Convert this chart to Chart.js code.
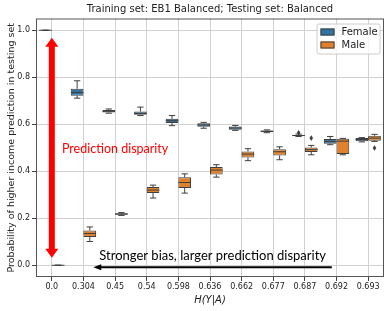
<!DOCTYPE html>
<html>
<head>
<meta charset="utf-8">
<script src="https://cdn.jsdelivr.net/npm/chart.js@4.4.0/dist/chart.umd.min.js"></script>
<style>
  html, body { margin: 0; padding: 0; background: #fff; }
</style>
</head>
<body>
<canvas id="myChart" width="390" height="311"></canvas>
<script>
// categories = H(Y|A)
const categories = ["0.0", "0.304", "0.45", "0.54", "0.598", "0.636", "0.662", "0.677", "0.687", "0.692", "0.693"];
const yTicks = [0.0, 0.2, 0.4, 0.6, 0.8, 1.0];

// Female box stats
const femaleMin = [1.0, 0.711, 0.647, 0.637, 0.594, 0.583, 0.574, 0.564, 0.548, 0.513, 0.525];
const femaleQ1 = [1.0, 0.721, 0.650, 0.640, 0.605, 0.589, 0.577, 0.566, 0.550, 0.517, 0.528];
const femaleMedian = [1.0, 0.735, 0.655, 0.646, 0.615, 0.597, 0.584, 0.570, 0.552, 0.526, 0.535];
const femaleQ3 = [1.0, 0.751, 0.661, 0.654, 0.623, 0.604, 0.590, 0.573, 0.554, 0.537, 0.541];
const femaleMax = [1.0, 0.785, 0.665, 0.673, 0.637, 0.608, 0.595, 0.576, 0.558, 0.548, 0.543];
const femaleOutliers = [[], [], [], [], [], [], [], [], [0.564], [], []];

// Male box stats
const maleMin = [0.0, 0.101, 0.212, 0.286, 0.307, 0.375, 0.445, 0.449, 0.470, 0.470, 0.527];
const maleQ1 = [0.0, 0.120, 0.215, 0.307, 0.329, 0.386, 0.459, 0.467, 0.482, 0.473, 0.530];
const maleMedian = [0.0, 0.135, 0.218, 0.320, 0.352, 0.405, 0.473, 0.483, 0.492, 0.528, 0.541];
const maleQ3 = [0.0, 0.148, 0.221, 0.333, 0.374, 0.418, 0.484, 0.494, 0.501, 0.538, 0.551];
const maleMax = [0.0, 0.163, 0.224, 0.341, 0.389, 0.428, 0.496, 0.504, 0.510, 0.540, 0.557];
const maleOutliers = [[], [], [], [], [], [], [], [], [0.541], [], [0.499]];

const BLUE = "#3274a1";
const ORANGE = "#e1812c";
const EDGE = "#3f3f3f";

function boxData(q1, q3) {
  return q1.map((v, i) => [v, q3[i]]);
}

// whiskers, medians, outliers, frame, legend and annotations
const boxPlugin = {
  id: "boxPlugin",
  beforeDatasetsDraw(chart) {
    const { ctx, chartArea: a } = chart;
    ctx.save();
    ctx.strokeStyle = "#555";
    ctx.lineWidth = 1;
    ctx.strokeRect(a.left + 0.5, a.top + 0.5, a.right - a.left - 1, a.bottom - a.top - 1);
    ctx.restore();
  },
  afterDatasetsDraw(chart) {
    const { ctx } = chart;
    const y = chart.scales.y;
    ctx.save();
    ctx.strokeStyle = EDGE;
    ctx.fillStyle = EDGE;
    ctx.lineWidth = 1;
    chart.data.datasets.forEach((ds, di) => {
      const meta = chart.getDatasetMeta(di);
      meta.data.forEach((bar, i) => {
        const s = ds.stats;
        const x = bar.x;
        const w = bar.width;
        const yq1 = y.getPixelForValue(s.q1[i]);
        const yq3 = y.getPixelForValue(s.q3[i]);
        const ymin = y.getPixelForValue(s.min[i]);
        const ymax = y.getPixelForValue(s.max[i]);
        const ymed = y.getPixelForValue(s.median[i]);
        ctx.beginPath();
        // whiskers
        ctx.moveTo(x, yq3); ctx.lineTo(x, ymax);
        ctx.moveTo(x, yq1); ctx.lineTo(x, ymin);
        // caps
        ctx.moveTo(x - w / 4, ymax); ctx.lineTo(x + w / 4, ymax);
        ctx.moveTo(x - w / 4, ymin); ctx.lineTo(x + w / 4, ymin);
        // median
        ctx.moveTo(x - w / 2, ymed); ctx.lineTo(x + w / 2, ymed);
        ctx.stroke();
        // outliers (diamonds)
        s.outliers[i].forEach((v) => {
          const yo = y.getPixelForValue(v);
          ctx.beginPath();
          ctx.moveTo(x, yo - 2.8);
          ctx.lineTo(x + 1.8, yo);
          ctx.lineTo(x, yo + 2.8);
          ctx.lineTo(x - 1.8, yo);
          ctx.closePath();
          ctx.fill();
        });
      });
    });
    ctx.restore();
  },
  afterDraw(chart) {
    const { ctx, chartArea: a } = chart;
    const xs = chart.scales.x;
    const ys = chart.scales.y;
    const step = xs.getPixelForValue(1) - xs.getPixelForValue(0);
    const xAt = (idx) => xs.getPixelForValue(0) + idx * step;

    ctx.save();
    // red double arrow
    const ax = xAt(0);
    const yTop = ys.getPixelForValue(0.968);
    const yBot = ys.getPixelForValue(0.032);
    const headL = 9, headW = 6.5, shaft = 3;
    ctx.fillStyle = "#ff0000";
    ctx.beginPath();
    ctx.moveTo(ax, yTop);
    ctx.lineTo(ax + headW, yTop + headL);
    ctx.lineTo(ax + shaft, yTop + headL);
    ctx.lineTo(ax + shaft, yBot - headL);
    ctx.lineTo(ax + headW, yBot - headL);
    ctx.lineTo(ax, yBot);
    ctx.lineTo(ax - headW, yBot - headL);
    ctx.lineTo(ax - shaft, yBot - headL);
    ctx.lineTo(ax - shaft, yTop + headL);
    ctx.lineTo(ax - headW, yTop + headL);
    ctx.closePath();
    ctx.fill();

    ctx.font = "12.5px Lato";
    ctx.textBaseline = "middle";
    ctx.textAlign = "left";
    ctx.fillText("Prediction disparity", xAt(0.32), ys.getPixelForValue(0.496));

    // black arrow
    ctx.fillStyle = "#000";
    ctx.strokeStyle = "#000";
    ctx.font = "13px Lato";
    ctx.fillText("Stronger bias, larger prediction disparity", xAt(1.5), ys.getPixelForValue(0.04));
    const by = ys.getPixelForValue(-0.008);
    const bx1 = xAt(8.85), bx2 = xAt(1.31);
    ctx.lineWidth = 2;
    ctx.beginPath();
    ctx.moveTo(bx1, by);
    ctx.lineTo(bx2 + 6, by);
    ctx.stroke();
    ctx.beginPath();
    ctx.moveTo(bx2, by);
    ctx.lineTo(bx2 + 8, by - 3);
    ctx.lineTo(bx2 + 8, by + 3);
    ctx.closePath();
    ctx.fill();

    // legend
    const lw = 63, lh = 30;
    const lx = a.right - 4.5 - lw, ly = a.top + 5;
    ctx.fillStyle = "rgba(255,255,255,0.8)";
    ctx.strokeStyle = "#cccccc";
    ctx.lineWidth = 1;
    ctx.beginPath();
    ctx.roundRect(lx + 0.5, ly + 0.5, lw, lh, 2);
    ctx.fill();
    ctx.stroke();
    const items = [["Female", BLUE], ["Male", ORANGE]];
    ctx.font = "10px 'DejaVu Sans'";
    items.forEach(([name, col], k) => {
      const iy = ly + 5 + k * 13;
      ctx.fillStyle = col;
      ctx.fillRect(lx + 4, iy, 14, 7);
      ctx.strokeStyle = EDGE;
      ctx.strokeRect(lx + 4.5, iy + 0.5, 13, 6);
      ctx.fillStyle = "#222";
      ctx.fillText(name, lx + 25, iy + 3.5);
    });
    ctx.restore();
  }
};

const ctx = document.getElementById("myChart").getContext("2d");
new Chart(ctx, {
  type: "bar",
  data: {
    labels: categories,
    datasets: [
      {
        label: "Female",
        data: boxData(femaleQ1, femaleQ3),
        backgroundColor: BLUE,
        borderColor: EDGE,
        borderWidth: 1,
        borderSkipped: false,
        categoryPercentage: 0.8,
        barPercentage: 1.0,
        stats: { min: femaleMin, q1: femaleQ1, median: femaleMedian, q3: femaleQ3, max: femaleMax, outliers: femaleOutliers },
      },
      {
        label: "Male",
        data: boxData(maleQ1, maleQ3),
        backgroundColor: ORANGE,
        borderColor: EDGE,
        borderWidth: 1,
        borderSkipped: false,
        categoryPercentage: 0.8,
        barPercentage: 1.0,
        stats: { min: maleMin, q1: maleQ1, median: maleMedian, q3: maleQ3, max: maleMax, outliers: maleOutliers },
      },
    ],
  },
  options: {
    responsive: false,
    animation: false,
    layout: { padding: { left: 0, right: 6, top: 0, bottom: 0 } },
    plugins: {
      legend: { display: false },
      tooltip: { enabled: false },
      title: {
        display: true,
        fullSize: false,
        text: "Training set: EB1 Balanced; Testing set: Balanced",
        color: "#222",
        font: { family: "DejaVu Sans", size: 10, weight: "normal" },
        padding: { top: 3.5, bottom: 3 },
      },
    },
    scales: {
      x: {
        grid: { offset: false, color: "#d0d0d0", tickLength: 4, tickColor: "#444" },
        border: { display: false },
        ticks: { color: "#222", font: { family: "DejaVu Sans", size: 8 }, padding: 1, maxRotation: 0, autoSkip: false },
        title: {
          display: true,
          text: "H(Y|A)",
          color: "#222",
          font: { family: "DejaVu Sans", size: 10, style: "italic" },
          padding: { top: 0, bottom: 5 },
        },
        afterFit(scale) { scale.height = 34; },
      },
      y: {
        min: -0.05,
        max: 1.05,
        afterBuildTicks(scale) { scale.ticks = yTicks.map((v) => ({ value: v })); },
        grid: { color: "#d0d0d0", tickLength: 4, tickColor: "#444" },
        border: { display: false },
        ticks: { color: "#222", font: { family: "DejaVu Sans", size: 8 }, padding: 2, callback: (v) => Number(v).toFixed(1) },
        title: {
          display: true,
          text: "Probability of higher income prediction in testing set",
          color: "#222",
          font: { family: "DejaVu Sans", size: 9.5 },
          padding: { top: 6, bottom: 0 },
        },
        afterFit(scale) { scale.width = 36; },
      },
    },
  },
  plugins: [boxPlugin],
});
</script>
</body>
</html>
